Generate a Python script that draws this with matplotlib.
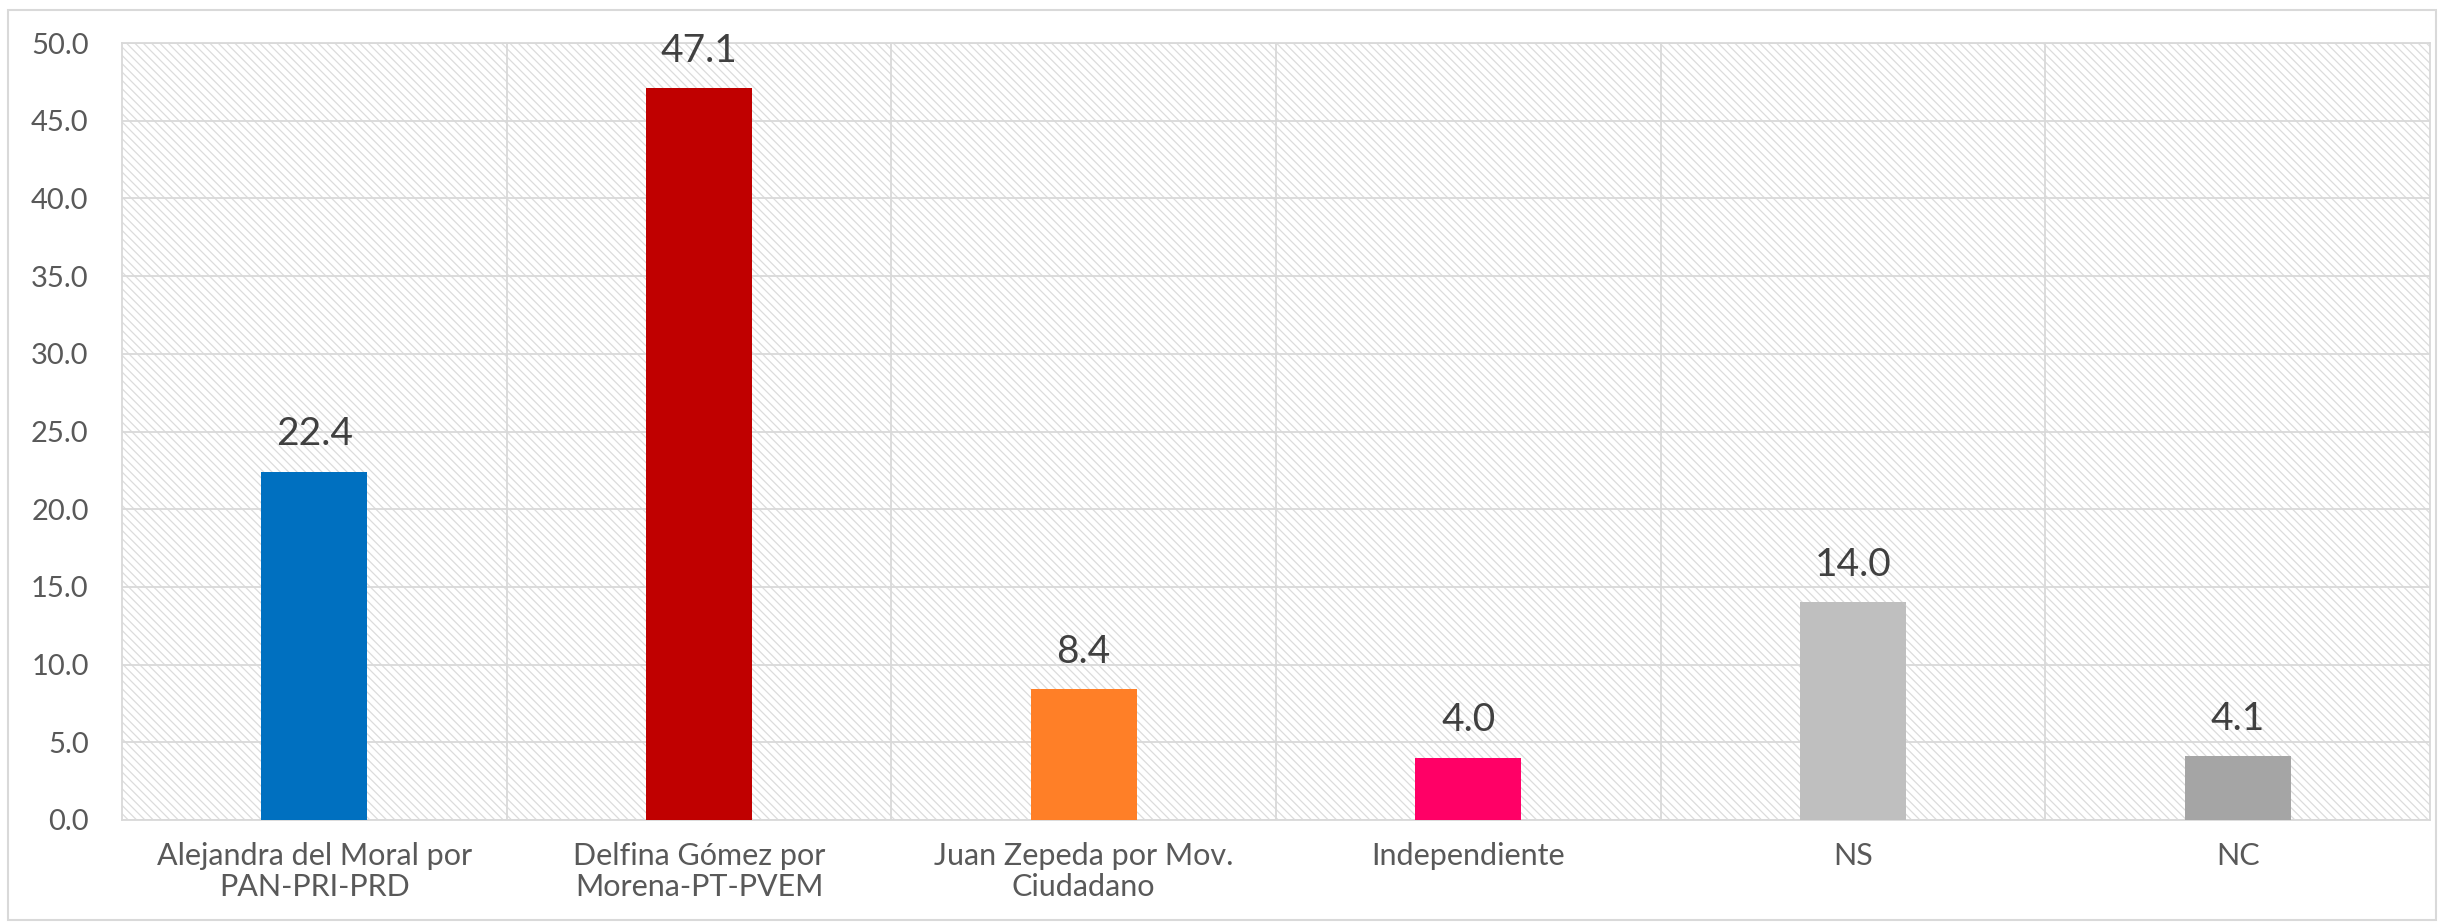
import numpy as np
import matplotlib.pyplot as plt
from matplotlib.patches import Rectangle

categorias = ["Alejandra del Moral por\nPAN-PRI-PRD", "Delfina Gómez por\nMorena-PT-PVEM",
              "Juan Zepeda por Mov.\nCiudadano", "Independiente", "NS", "NC"]
valores = [22.4, 47.1, 8.4, 4.0, 14.0, 4.1]
colores = ["#0070C0", "#C00000", "#FF7F27", "#FF0066", "#BFBFBF", "#A5A5A5"]
yticks = np.arange(0, 50.1, 5)

plt.rcParams['font.family'] = ['Lato', 'DejaVu Sans']
plt.rcParams['hatch.linewidth'] = 0.9

fig = plt.figure(figsize=(24.43, 9.23), dpi=100)
ax = fig.add_axes([122/2443, 1 - 820/923, (2430-122)/2443, (820-43)/923])

# fondo rayado
ax.patch.set_facecolor("white")
ax.add_patch(Rectangle((0, 0), 1, 1, transform=ax.transAxes, facecolor="white",
                       edgecolor="#DCDCDC", linewidth=0, hatch="\\\\\\\\", zorder=0))

x = np.arange(len(categorias))
ax.bar(x, valores, width=0.275, color=colores, zorder=3)

for xi, v in zip(x, valores):
    ax.annotate("{:.1f}".format(v), (xi, v), xytext=(0, 14), textcoords="offset points",
                ha="center", va="bottom", fontsize=28, color="#404040", zorder=4)

ax.set_xlim(-0.5, len(categorias) - 0.5)
ax.set_ylim(0, 50)
ax.set_yticks(yticks)
ax.set_yticklabels(["{:.1f}".format(t) for t in yticks], fontsize=21, color="#595959")
ax.set_xticks(x)
ax.set_xticklabels(categorias, fontsize=22, color="#595959", linespacing=1.1)
ax.tick_params(axis="both", length=0)
ax.tick_params(axis="y", pad=24)
ax.tick_params(axis="x", pad=16)

# cuadricula
for t in yticks:
    ax.axhline(t, color="#D9D9D9", lw=1.3, zorder=1)
for b in np.arange(0.5, len(categorias) - 1, 1):
    ax.axvline(b, color="#D9D9D9", lw=1.3, zorder=1)
for s in ax.spines.values():
    s.set_color("#D9D9D9")
    s.set_linewidth(1.3)

fig.patches.append(Rectangle((8/2443, 3/923), (2436-8)/2443, (913-3)/923, transform=fig.transFigure,
                             facecolor="none", edgecolor="#D9D9D9", lw=1.5))

fig.savefig("out.png", dpi=100)
